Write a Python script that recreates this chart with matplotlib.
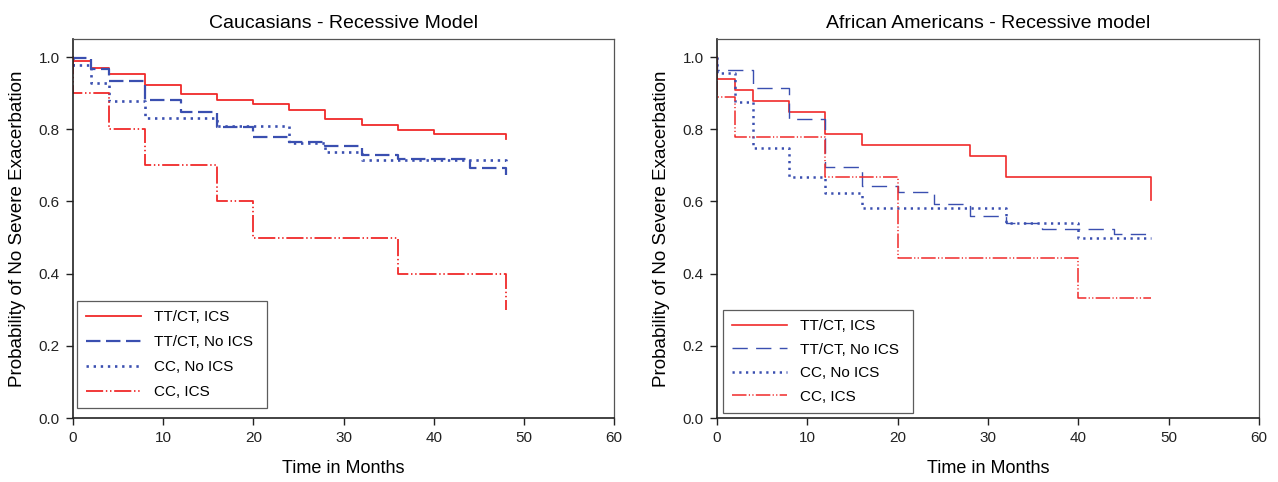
import matplotlib
matplotlib.use("Agg")
import matplotlib.pyplot as plt

plt.rcParams['font.family'] = ['Liberation Sans', 'DejaVu Sans']

labels = ["TT/CT, ICS", "TT/CT, No ICS", "CC, No ICS", "CC, ICS"]

# Caucasians - Recessive Model
cau_tt_ics_t = [0, 0, 2, 4, 8, 12, 16, 20, 24, 28, 32, 36, 40, 48]
cau_tt_ics_v = [1.0, 0.990, 0.969, 0.952, 0.922, 0.899, 0.881, 0.869, 0.852, 0.828, 0.811, 0.799, 0.787, 0.774]
cau_tt_no_t = [0, 0, 2, 4, 8, 12, 16, 20, 24, 28, 32, 36, 44, 48]
cau_tt_no_v = [1.0, 0.996, 0.966, 0.933, 0.881, 0.849, 0.805, 0.779, 0.766, 0.753, 0.728, 0.717, 0.693, 0.673]
cau_cc_no_t = [0, 0, 2, 4, 8, 16, 24, 28, 32, 48]
cau_cc_no_v = [1.0, 0.978, 0.929, 0.879, 0.832, 0.809, 0.763, 0.738, 0.715, 0.713]
cau_cc_ics_t = [0, 0, 4, 8, 16, 20, 36, 48]
cau_cc_ics_v = [1.0, 0.90, 0.80, 0.70, 0.60, 0.50, 0.40, 0.30]

# African Americans - Recessive model
aa_tt_ics_t = [0, 0, 2, 4, 8, 12, 16, 28, 32, 48]
aa_tt_ics_v = [1.0, 0.939, 0.909, 0.877, 0.847, 0.786, 0.757, 0.726, 0.667, 0.605]
aa_tt_no_t = [0, 0, 4, 8, 12, 16, 20, 24, 28, 32, 36, 44, 48]
aa_tt_no_v = [1.0, 0.965, 0.914, 0.829, 0.694, 0.643, 0.626, 0.592, 0.560, 0.541, 0.523, 0.509, 0.509]
aa_cc_no_t = [0, 0, 2, 4, 8, 12, 16, 32, 40, 48]
aa_cc_no_v = [1.0, 0.956, 0.875, 0.749, 0.667, 0.623, 0.581, 0.541, 0.500, 0.500]
aa_cc_ics_t = [0, 0, 2, 12, 20, 40, 48]
aa_cc_ics_v = [1.0, 0.889, 0.778, 0.667, 0.443, 0.332, 0.332]

titles = ["Caucasians - Recessive Model", "African Americans - Recessive model"]
x_ticks = [0, 10, 20, 30, 40, 50, 60]
y_ticks = [0.0, 0.2, 0.4, 0.6, 0.8, 1.0]

red = '#f02a2a'
blue = '#3a4fb0'

fig = plt.figure(figsize=(12.78, 4.82), dpi=100)
W, H = 1278, 482
ax1 = fig.add_axes([73 / W, 1 - 418 / H, (614 - 73) / W, (418 - 39) / H])
ax2 = fig.add_axes([717 / W, 1 - 418 / H, (1259 - 717) / W, (418 - 39) / H])

left_styles = [
    dict(color=red, linestyle='-', linewidth=1.3),
    dict(color=blue, linestyle=(0, (6.5, 2.5)), linewidth=1.6),
    dict(color=blue, linestyle=(0, (0.9, 1.8)), linewidth=1.9),
    dict(color=red, linestyle=(0, (9.5, 1.5, 0.8, 1.5, 0.8, 1.5)), linewidth=1.3),
]
right_styles = [
    dict(color=red, linestyle='-', linewidth=1.2),
    dict(color=blue, linestyle=(0, (11, 6)), linewidth=1.0),
    dict(color=blue, linestyle=(0, (0.9, 1.8)), linewidth=1.8),
    dict(color=red, linestyle=(0, (9.5, 1.5, 0.8, 1.5, 0.8, 1.5)), linewidth=1.1),
]

panels = [
    (ax1, [(cau_tt_ics_t, cau_tt_ics_v), (cau_tt_no_t, cau_tt_no_v),
           (cau_cc_no_t, cau_cc_no_v), (cau_cc_ics_t, cau_cc_ics_v)],
     left_styles, (77, 301, 267, 412), 0.72),
    (ax2, [(aa_tt_ics_t, aa_tt_ics_v), (aa_tt_no_t, aa_tt_no_v),
           (aa_cc_no_t, aa_cc_no_v), (aa_cc_ics_t, aa_cc_ics_v)],
     right_styles, (723, 310, 913, 415), 0.62),
]

for (ax, series, styles, legbox, lspace), title in zip(panels, titles):
    for (t, v), st, lab in zip(series, styles, labels):
        ax.step(t, v, where='post', label=lab, **st)
    ax.set_xlim(0, 60)
    ax.set_ylim(0, 1.05)
    ax.set_xticks(x_ticks)
    ax.set_yticks(y_ticks)
    ax.set_yticklabels([f"{y:.1f}" for y in y_ticks])
    ax.tick_params(direction='out', length=5, width=1, labelsize=11, colors='#222222', pad=4.5)
    for s in ['left', 'bottom']:
        ax.spines[s].set_linewidth(1.2)
        ax.spines[s].set_color('#222222')
    for s in ['top', 'right']:
        ax.spines[s].set_linewidth(0.9)
        ax.spines[s].set_color('#555555')
    ax.set_title(title, fontsize=14, pad=8)
    ax.set_xlabel("Time in Months", fontsize=13, labelpad=11)
    ax.set_ylabel("Probability of No Severe Exacerbation", fontsize=13.5, labelpad=9)
    x0, y0, x1, y1 = legbox
    bb = (x0 / W, 1 - y1 / H, (x1 - x0) / W, (y1 - y0) / H)
    leg = ax.legend(loc='upper left', bbox_to_anchor=bb, bbox_transform=fig.transFigure,
                    fontsize=11, frameon=True, fancybox=False, handlelength=3.6,
                    handletextpad=0.85, labelspacing=lspace, borderpad=0.6,
                    borderaxespad=0, mode='expand')
    leg.get_frame().set_edgecolor('#333333')
    leg.get_frame().set_linewidth(0.9)

fig.savefig("out.png", dpi=100)
